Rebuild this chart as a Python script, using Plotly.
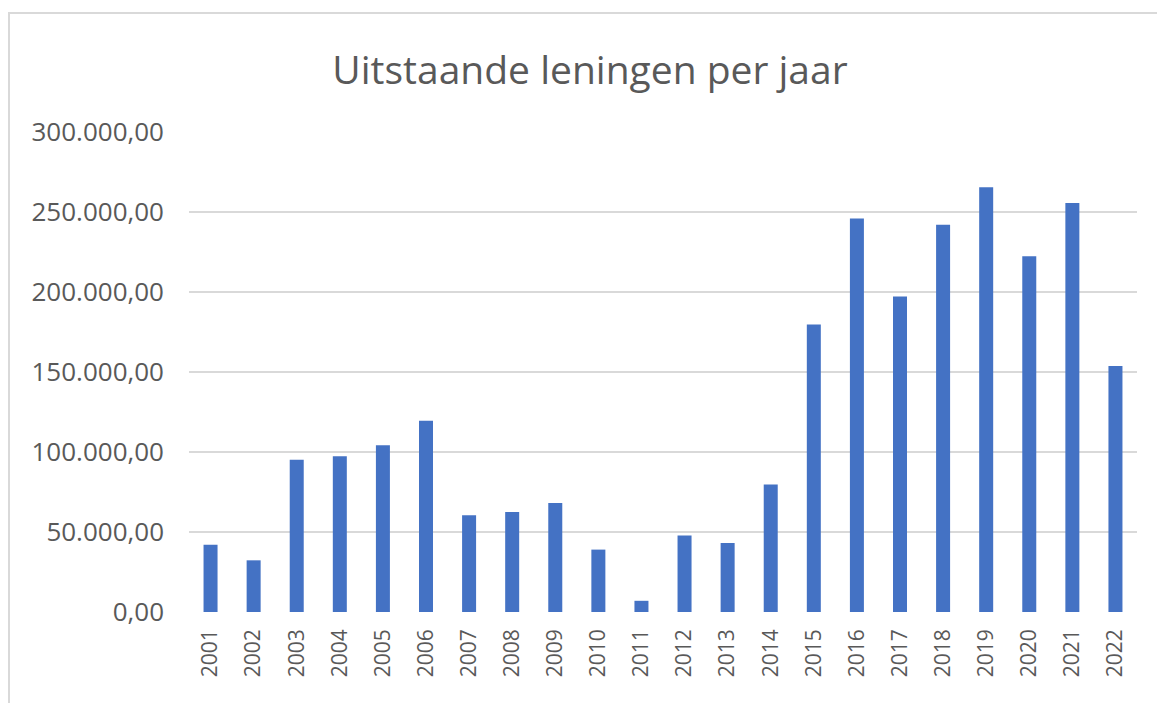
import plotly.graph_objects as go

years = [str(y) for y in range(2001, 2023)]
loans = [42100, 32300, 95200, 97300, 104200, 119600, 60400, 62500, 68100, 39000, 7000,
         47800, 43100, 79700, 179700, 245900, 197200, 242000, 265500, 222400, 255600, 153700]

y_tickvals = [0, 50000, 100000, 150000, 200000, 250000, 300000]
y_ticktext = ["0,00", "50.000,00", "100.000,00", "150.000,00", "200.000,00", "250.000,00", "300.000,00"]

# page body has an 8px margin, so figure coords = screen coords - 8
OFF = 8
W, H = 1165, 703
L, R, T, B = 189 - OFF, W - (1137 - OFF), 132 - OFF, H - (612 - OFF)
pw, ph = W - L - R, H - T - B

fig = go.Figure()
fig.add_trace(go.Bar(x=years, y=loans, marker=dict(color="#4472C4", line=dict(width=0)),
                     showlegend=False))

def px_x(p):
    return (p - OFF - L) / pw

def px_y(p):
    return (H - B - (p - OFF)) / ph

fig.update_layout(
    width=W, height=H,
    margin=dict(l=L, r=R, t=T, b=B),
    paper_bgcolor="white", plot_bgcolor="white",
    bargap=0.675,
    title=dict(text="Uitstaande leningen per jaar", x=px_x(590), xanchor="center",
               xref="paper", y=1 - (70 - OFF) / H, yanchor="middle",
               font=dict(family="Open Sans", size=39, color="#595959")),
    xaxis=dict(type="category", tickangle=-90, showgrid=False, showline=False,
               ticks="", ticklabelstandoff=12,
               tickfont=dict(family="Open Sans", size=21, color="#595959")),
    yaxis=dict(range=[0, 300000], tickvals=y_tickvals, ticktext=y_ticktext,
               showgrid=True, gridcolor="#D9D9D9", gridwidth=1.5,
               zeroline=False, showline=False, ticks="", ticklabelstandoff=24,
               tickfont=dict(family="Open Sans", size=26, color="#595959")),
    shapes=[dict(type="rect", xref="paper", yref="paper",
                 x0=px_x(9), x1=px_x(1162), y0=px_y(730), y1=px_y(13),
                 line=dict(color="#D9D9D9", width=2), fillcolor="rgba(0,0,0,0)",
                 layer="below")],
)

fig.write_html("out.html")
